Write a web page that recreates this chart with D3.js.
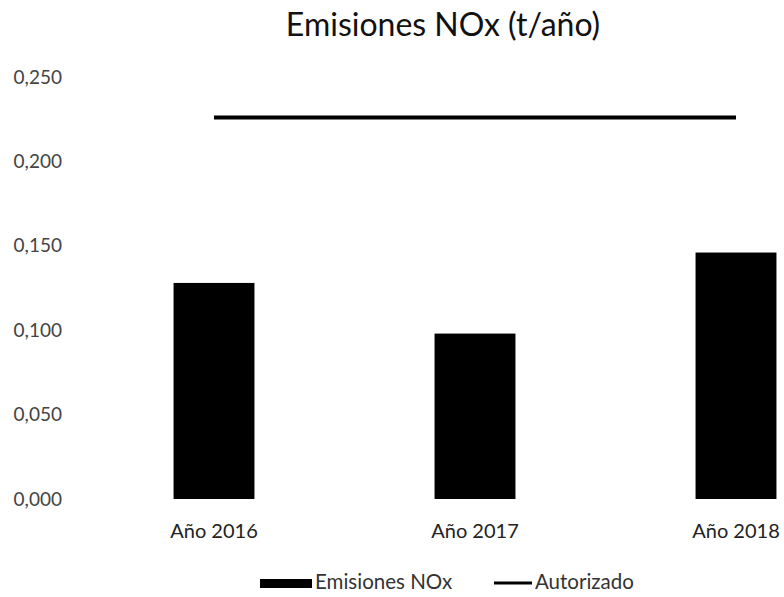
<!DOCTYPE html>
<html>
<head>
<meta charset="utf-8">
<script src="https://cdn.jsdelivr.net/npm/d3@7"></script>
<style>
  html, body { margin: 0; padding: 0; background: #fff; }
  svg { display: block; }
  text { font-family: Lato, "Open Sans", sans-serif; }
</style>
</head>
<body>
<svg id="chart" width="784" height="597"></svg>
<script>
const categories = ["Año 2016", "Año 2017", "Año 2018"];
const emisiones = [0.128, 0.098, 0.146];
const autorizado = [0.226, 0.226, 0.226];
const yTicks = [0, 0.05, 0.10, 0.15, 0.20, 0.25];
const title = "Emisiones NOx (t/año)";
const legendLabels = ["Emisiones NOx", "Autorizado"];

const svg = d3.select("#chart");
const fmt = v => d3.format(".3f")(v).replace(".", ",");

const x = d3.scaleBand().domain(categories).range([83.5, 866.5])
  .paddingInner(0.69).paddingOuter(0.345);
const y = d3.scaleLinear().domain([0, 0.25]).range([499, 77]);

// title
svg.append("text").attr("x", 443).attr("y", 36).attr("text-anchor", "middle")
  .attr("font-size", 32).attr("fill", "#111").text(title);

// y axis
const yAxis = d3.axisLeft(y).tickValues(yTicks).tickFormat(fmt).tickSize(0).tickPadding(0);
const gy = svg.append("g").attr("transform", "translate(62,0)").call(yAxis);
gy.select(".domain").remove();
gy.selectAll("text").attr("font-size", 19).attr("fill", "#444")
  .attr("font-family", "Lato, sans-serif");

// bars
svg.append("g").selectAll("rect").data(emisiones).join("rect")
  .attr("x", (d, i) => x(categories[i]))
  .attr("width", x.bandwidth())
  .attr("y", d => y(d))
  .attr("height", d => y(0) - y(d))
  .attr("fill", "#000");

// authorized line
const line = d3.line()
  .x((d, i) => x(categories[i]) + x.bandwidth() / 2)
  .y(d => y(d));
svg.append("path").datum(autorizado).attr("d", line)
  .attr("fill", "none").attr("stroke", "#000").attr("stroke-width", 4);

// x axis labels
const xAxis = d3.axisBottom(x).tickSize(0).tickPadding(0);
const gx = svg.append("g").attr("transform", "translate(0,522)").call(xAxis);
gx.select(".domain").remove();
gx.selectAll("text").attr("font-size", 20).attr("fill", "#222")
  .attr("font-family", "Lato, sans-serif").attr("dy", "0.8em");

// legend
const lg = svg.append("g");
lg.append("rect").attr("x", 260).attr("y", 579).attr("width", 52).attr("height", 9).attr("fill", "#000");
lg.append("text").attr("x", 315).attr("y", 589).attr("font-size", 20.5).attr("fill", "#333").text(legendLabels[0]);
lg.append("line").attr("x1", 494).attr("x2", 532).attr("y1", 583).attr("y2", 583)
  .attr("stroke", "#000").attr("stroke-width", 3);
lg.append("text").attr("x", 535).attr("y", 589).attr("font-size", 20.5).attr("fill", "#333").text(legendLabels[1]);
</script>
</body>
</html>
